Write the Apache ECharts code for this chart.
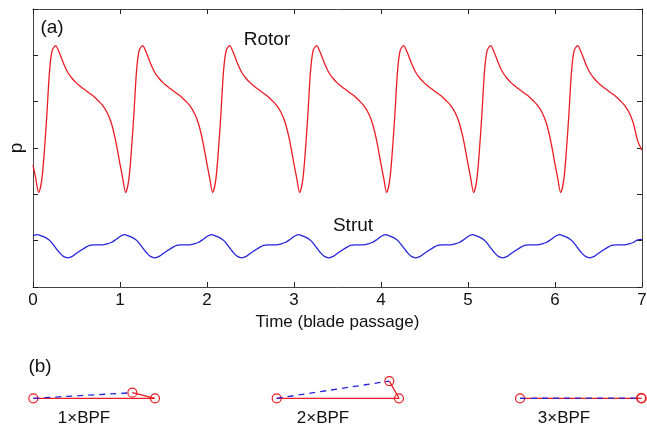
<!DOCTYPE html>
<html>
<head>
<meta charset="utf-8">
<script src="https://cdn.jsdelivr.net/npm/echarts@6/dist/echarts.min.js"></script>
<style>
html,body{margin:0;padding:0;background:#fff;}
#c{width:647px;height:425px;}
</style>
</head>
<body>
<div id="c"></div>
<script>
// ---- Panel (a): time axis ticks ----
var xTicks = [0, 1, 2, 3, 4, 5, 6, 7];

// ---- Rotor pressure trace ----
var rotorTime = [
0,0.03,0.065,0.1,0.13,0.16,0.19,0.22,0.26,0.3,0.35,0.4,0.45,0.5,0.55,0.6,0.65,0.7,0.75,0.8,0.85,0.9,0.95,
1,1.03,1.065,1.1,1.13,1.16,1.19,1.22,1.26,1.3,1.35,1.4,1.45,1.5,1.55,1.6,1.65,1.7,1.75,1.8,1.85,1.9,1.95,
2,2.03,2.065,2.1,2.13,2.16,2.19,2.22,2.26,2.3,2.35,2.4,2.45,2.5,2.55,2.6,2.65,2.7,2.75,2.8,2.85,2.9,2.95,
3,3.03,3.065,3.1,3.13,3.16,3.19,3.22,3.26,3.3,3.35,3.4,3.45,3.5,3.55,3.6,3.65,3.7,3.75,3.8,3.85,3.9,3.95,
4,4.03,4.065,4.1,4.13,4.16,4.19,4.22,4.26,4.3,4.35,4.4,4.45,4.5,4.55,4.6,4.65,4.7,4.75,4.8,4.85,4.9,4.95,
5,5.03,5.065,5.1,5.13,5.16,5.19,5.22,5.26,5.3,5.35,5.4,5.45,5.5,5.55,5.6,5.65,5.7,5.75,5.8,5.85,5.9,5.95,
6,6.03,6.065,6.1,6.13,6.16,6.19,6.22,6.26,6.3,6.35,6.4,6.45,6.5,6.55,6.6,6.65,6.7,6.75,6.8,6.85,6.9,6.95,
7
];
var rotorP = [
2.63,2.36,2.04,2.30,2.92,3.74,4.66,5.10,5.21,5.07,4.83,4.63,4.50,4.40,4.32,4.25,4.18,4.11,4.02,3.92,3.77,3.54,3.16,
2.65,2.36,2.04,2.30,2.92,3.74,4.66,5.10,5.21,5.07,4.83,4.63,4.50,4.40,4.32,4.25,4.18,4.11,4.02,3.92,3.77,3.54,3.16,
2.65,2.36,2.04,2.30,2.92,3.74,4.66,5.10,5.21,5.07,4.83,4.63,4.50,4.40,4.32,4.25,4.18,4.11,4.02,3.92,3.77,3.54,3.16,
2.65,2.36,2.04,2.30,2.92,3.74,4.66,5.10,5.21,5.07,4.83,4.63,4.50,4.40,4.32,4.25,4.18,4.11,4.02,3.92,3.77,3.54,3.16,
2.65,2.36,2.04,2.30,2.92,3.74,4.66,5.10,5.21,5.07,4.83,4.63,4.50,4.40,4.32,4.25,4.18,4.11,4.02,3.92,3.77,3.54,3.16,
2.65,2.36,2.04,2.30,2.92,3.74,4.66,5.10,5.21,5.07,4.83,4.63,4.50,4.40,4.32,4.25,4.18,4.11,4.02,3.92,3.77,3.54,3.16,
2.65,2.36,2.04,2.30,2.92,3.74,4.66,5.10,5.21,5.07,4.83,4.63,4.50,4.40,4.32,4.25,4.18,4.11,4.02,3.92,3.77,3.54,3.16,
2.95
];

// ---- Strut pressure trace ----
var strutTime = [
0,0.05,0.1,0.15,0.2,0.25,0.3,0.35,0.4,0.45,0.5,0.55,0.6,0.65,0.7,0.75,0.8,0.85,0.9,0.95,
1,1.05,1.1,1.15,1.2,1.25,1.3,1.35,1.4,1.45,1.5,1.55,1.6,1.65,1.7,1.75,1.8,1.85,1.9,1.95,
2,2.05,2.1,2.15,2.2,2.25,2.3,2.35,2.4,2.45,2.5,2.55,2.6,2.65,2.7,2.75,2.8,2.85,2.9,2.95,
3,3.05,3.1,3.15,3.2,3.25,3.3,3.35,3.4,3.45,3.5,3.55,3.6,3.65,3.7,3.75,3.8,3.85,3.9,3.95,
4,4.05,4.1,4.15,4.2,4.25,4.3,4.35,4.4,4.45,4.5,4.55,4.6,4.65,4.7,4.75,4.8,4.85,4.9,4.95,
5,5.05,5.1,5.15,5.2,5.25,5.3,5.35,5.4,5.45,5.5,5.55,5.6,5.65,5.7,5.75,5.8,5.85,5.9,5.95,
6,6.05,6.1,6.15,6.2,6.25,6.3,6.35,6.4,6.45,6.5,6.55,6.6,6.65,6.7,6.75,6.8,6.85,6.9,6.95,
7
];
var strutP = [
1.11,1.13,1.10,1.06,0.99,0.87,0.75,0.66,0.63,0.66,0.73,0.79,0.85,0.90,0.91,0.91,0.91,0.93,0.96,1.02,
1.09,1.13,1.10,1.06,0.99,0.87,0.75,0.66,0.63,0.66,0.73,0.79,0.85,0.90,0.91,0.91,0.91,0.93,0.96,1.02,
1.09,1.13,1.10,1.06,0.99,0.87,0.75,0.66,0.63,0.66,0.73,0.79,0.85,0.90,0.91,0.91,0.91,0.93,0.96,1.02,
1.09,1.13,1.10,1.06,0.99,0.87,0.75,0.66,0.63,0.66,0.73,0.79,0.85,0.90,0.91,0.91,0.91,0.93,0.96,1.02,
1.09,1.13,1.10,1.06,0.99,0.87,0.75,0.66,0.63,0.66,0.73,0.79,0.85,0.90,0.91,0.91,0.91,0.93,0.96,1.02,
1.09,1.13,1.10,1.06,0.99,0.87,0.75,0.66,0.63,0.66,0.73,0.79,0.85,0.90,0.91,0.91,0.91,0.93,0.96,1.02,
1.09,1.13,1.10,1.06,0.99,0.87,0.75,0.66,0.63,0.66,0.73,0.79,0.85,0.90,0.91,0.91,0.91,0.93,0.96,1.02,
1.03
];

// ---- Panel (b): phasor diagrams (rotor phasor normalised to length 1) ----
var harmonicLabels = ['1\u00d7BPF', '2\u00d7BPF', '3\u00d7BPF'];
var phasorEndX = [1, 1, 1];
var phasorEndY = [0, 0, 0];
var phasorTipX = [0.814, 0.921, 0.995];
var phasorTipY = [0.046, 0.141, 0.002];

var RED = '#ec1c24';
var BLUE = '#2424dc';
var FONT = 'Liberation Sans, Arial, sans-serif';
var AXC = '#444';

function zip(a, b) { return a.map(function (v, i) { return [v, b[i]]; }); }

var chart = echarts.init(document.getElementById('c'), null, { renderer: 'canvas' });

var grids = [
  { left: 33, right: 5, top: 9, height: 278, outerBoundsMode: 'none', containLabel: false },
  { left: 33.3, width: 121.7, top: 361.7, height: 36.6, outerBoundsMode: 'none', containLabel: false },
  { left: 276.7, width: 122.3, top: 361.7, height: 36.6, outerBoundsMode: 'none', containLabel: false },
  { left: 520, width: 121.7, top: 361.7, height: 36.6, outerBoundsMode: 'none', containLabel: false }
];

var frameLine = { show: true, onZero: false, lineStyle: { color: AXC, width: 1 } };
var frameTick = { show: true, inside: true, length: 5, lineStyle: { color: '#222' } };

var xAxes = [
  {
    gridIndex: 0, type: 'value', min: xTicks[0], max: xTicks[xTicks.length - 1], interval: 1,
    position: 'bottom', axisLine: frameLine, axisTick: frameTick,
    axisLabel: { show: true, fontSize: 17, margin: 5, color: '#111', fontFamily: FONT },
    splitLine: { show: false },
    name: 'Time (blade passage)', nameLocation: 'middle', nameGap: 19,
    nameTextStyle: { fontSize: 17, color: '#111', fontFamily: FONT }
  },
  {
    gridIndex: 0, type: 'value', min: xTicks[0], max: xTicks[xTicks.length - 1], interval: 1,
    position: 'top', axisLine: frameLine, axisTick: frameTick,
    axisLabel: { show: false }, splitLine: { show: false }
  }
];
var yAxes = [
  {
    gridIndex: 0, type: 'value', min: 0, max: 6, interval: 1, position: 'left',
    axisLine: frameLine, axisTick: frameTick,
    axisLabel: { show: false }, splitLine: { show: false },
    name: 'p', nameLocation: 'middle', nameGap: 7, nameRotate: 90,
    nameTextStyle: { fontSize: 19, color: '#111', fontFamily: FONT }
  },
  {
    gridIndex: 0, type: 'value', min: 0, max: 6, interval: 1, position: 'right',
    axisLine: frameLine, axisTick: frameTick,
    axisLabel: { show: false }, splitLine: { show: false }
  }
];

var series = [
  {
    type: 'line', xAxisIndex: 0, yAxisIndex: 0, data: zip(rotorTime, rotorP),
    showSymbol: false, smooth: 0.3, lineStyle: { color: RED, width: 1.3 }, z: 3
  },
  {
    type: 'line', xAxisIndex: 0, yAxisIndex: 0, data: zip(strutTime, strutP),
    showSymbol: false, smooth: 0.3, lineStyle: { color: BLUE, width: 1.3 }, z: 3
  }
];

var graphics = [
  { type: 'text', style: { text: '(a)', x: 52, y: 28, textAlign: 'center', textVerticalAlign: 'middle', fontSize: 19, fontFamily: FONT, fill: '#111' } },
  { type: 'text', style: { text: 'Rotor', x: 267, y: 40, textAlign: 'center', textVerticalAlign: 'middle', fontSize: 19, fontFamily: FONT, fill: '#111' } },
  { type: 'text', style: { text: 'Strut', x: 353, y: 226, textAlign: 'center', textVerticalAlign: 'middle', fontSize: 19, fontFamily: FONT, fill: '#111' } },
  { type: 'text', style: { text: '(b)', x: 40, y: 367, textAlign: 'center', textVerticalAlign: 'middle', fontSize: 19, fontFamily: FONT, fill: '#111' } }
];
var labelCenters = [84, 323, 564];

for (var i = 0; i < 3; i++) {
  var g = i + 1;
  xAxes.push({ gridIndex: g, type: 'value', min: 0, max: 1, show: false });
  yAxes.push({ gridIndex: g, type: 'value', min: 0, max: 0.3, show: false });
  series.push({
    type: 'line', xAxisIndex: g + 1, yAxisIndex: g + 1, clip: false,
    data: [[0, 0], [phasorEndX[i], phasorEndY[i]], [phasorTipX[i], phasorTipY[i]]],
    symbol: 'circle', symbolSize: 9, showSymbol: true,
    itemStyle: { color: 'rgba(255,255,255,0)', borderColor: RED, borderWidth: 1.2 },
    lineStyle: { color: RED, width: 1.3 }, z: 3
  });
  series.push({
    type: 'line', xAxisIndex: g + 1, yAxisIndex: g + 1, clip: false,
    data: [[0, 0], [phasorTipX[i], phasorTipY[i]]],
    showSymbol: false, symbol: 'none',
    lineStyle: { color: BLUE, width: 1.3, type: [6, 5] }, z: 4
  });
  graphics.push({ type: 'text', style: { text: harmonicLabels[i], x: labelCenters[i], y: 418, textAlign: 'center', textVerticalAlign: 'middle', fontSize: 17, fontFamily: FONT, fill: '#111' } });
}

chart.setOption({
  animation: false,
  backgroundColor: '#fff',
  textStyle: { fontFamily: FONT },
  grid: grids,
  xAxis: xAxes,
  yAxis: yAxes,
  series: series,
  graphic: graphics
});
</script>
</body>
</html>
